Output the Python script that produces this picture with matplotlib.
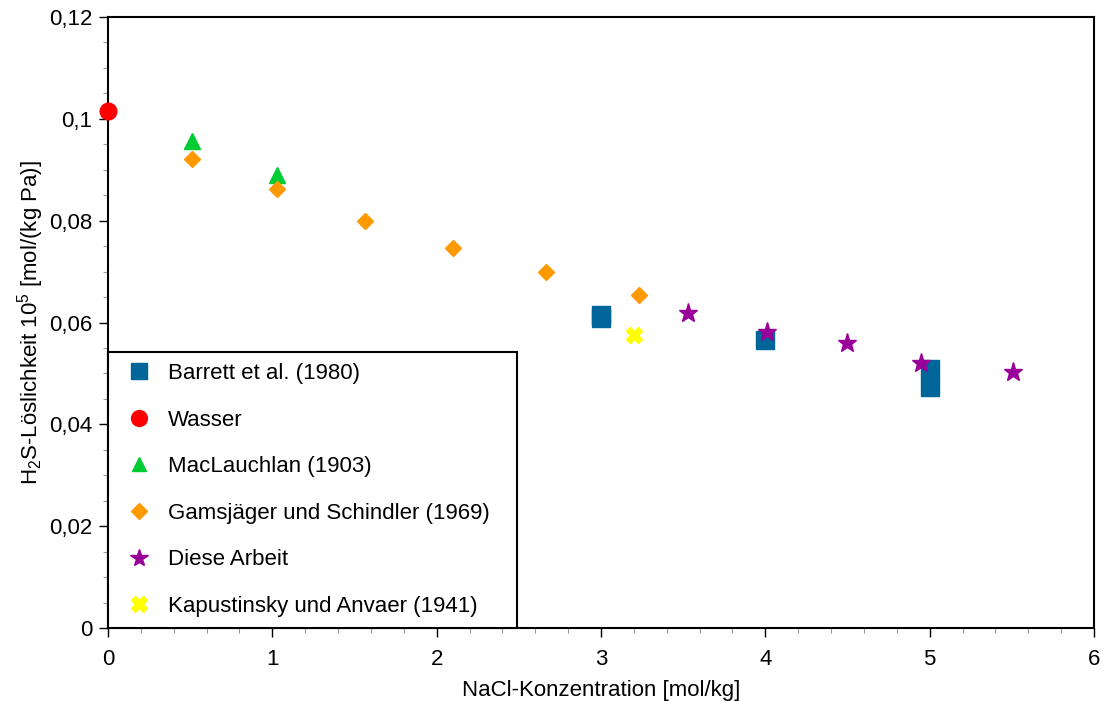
import numpy as np
import matplotlib
matplotlib.use("Agg")
import matplotlib.pyplot as plt
from matplotlib.ticker import MultipleLocator, FuncFormatter

plt.rcParams['font.family'] = ['Liberation Sans', 'DejaVu Sans']
plt.rcParams['mathtext.fontset'] = 'custom'
plt.rcParams['mathtext.rm'] = 'Liberation Sans'
plt.rcParams['mathtext.default'] = 'regular'

# NaCl-Konzentration [mol/kg] und H2S-Loeslichkeit [10^5 mol/(kg Pa)]
barrett_x = [3.0, 3.0, 4.0, 5.0, 5.0]
barrett_y = [0.0614, 0.0609, 0.0566, 0.0508, 0.0474]

wasser_x = [0.0]
wasser_y = [0.1016]

maclauchlan_x = [0.51, 1.03]
maclauchlan_y = [0.0956, 0.0890]

gamsjaeger_x = [0.51, 1.03, 1.564, 2.10, 2.666, 3.232]
gamsjaeger_y = [0.0922, 0.0862, 0.0800, 0.0746, 0.0700, 0.0654]

arbeit_x = [3.53, 4.01, 4.50, 4.95, 5.51]
arbeit_y = [0.0618, 0.0582, 0.0559, 0.0520, 0.0503]

kapustinsky_x = [3.20]
kapustinsky_y = [0.0575]

fig = plt.figure(figsize=(11.06, 7.01), dpi=100)
ax = fig.add_axes([108/1106, 1 - 628/701, (1094-108)/1106, (628-17)/701])

ax.plot(barrett_x, barrett_y, ls='none', marker='s', ms=12.5, color='#006699',
        label='Barrett et al. (1980)', zorder=3)
ax.plot(wasser_x, wasser_y, ls='none', marker='o', ms=12, color='#ff0000',
        label='Wasser', zorder=4, clip_on=False)
ax.plot(maclauchlan_x, maclauchlan_y, ls='none', marker='^', ms=11, color='#00cc33',
        label='MacLauchlan (1903)', zorder=4)
ax.plot(gamsjaeger_x, gamsjaeger_y, ls='none', marker='D', ms=8.5, color='#ff9900',
        label='Gamsjäger und Schindler (1969)', zorder=4)
ax.plot(arbeit_x, arbeit_y, ls='none', marker='*', ms=14, color='#990099',
        label='Diese Arbeit', zorder=5)
ax.plot(kapustinsky_x, kapustinsky_y, ls='none', marker='X', ms=12, color='#ffff00',
        label='Kapustinsky und Anvaer (1941)', zorder=4)

ax.set_xlim(0, 6)
ax.set_ylim(0, 0.12)
ax.xaxis.set_major_locator(MultipleLocator(1))
ax.xaxis.set_minor_locator(MultipleLocator(0.2))
ax.yaxis.set_major_locator(MultipleLocator(0.02))
ax.yaxis.set_minor_locator(MultipleLocator(0.005))
ax.yaxis.set_major_formatter(FuncFormatter(lambda v, p: ('%g' % round(v, 3)).replace('.', ',')))

ax.tick_params(which='major', direction='out', length=6.5, width=1, labelsize=16, pad=5)
ax.tick_params(axis='x', which='major', pad=8.5)
ax.tick_params(which='minor', direction='out', length=3.5, width=0.8, color='#999999')
for s in ax.spines.values():
    s.set_linewidth(1.5)

ax.set_xlabel('NaCl-Konzentration [mol/kg]', fontsize=16, labelpad=7)
ax.set_ylabel('H$_2$S-Löslichkeit 10$^5$ [mol/(kg Pa)]', fontsize=16, labelpad=2)

# Legende unten links, rechter Rand bei x ~ 2.5
leg = ax.legend(loc='lower left', bbox_to_anchor=(0, 0, (517-108)/986, 0.5), mode='expand',
                borderaxespad=0, fontsize=16, fancybox=False, edgecolor='black',
                framealpha=1, handletextpad=0.4, labelspacing=1.15, borderpad=0.5,
                handlelength=1.8, numpoints=1, markerscale=0.95)
leg.get_frame().set_linewidth(1.5)
leg.set_zorder(10)

fig.savefig('out.png', dpi=100)
